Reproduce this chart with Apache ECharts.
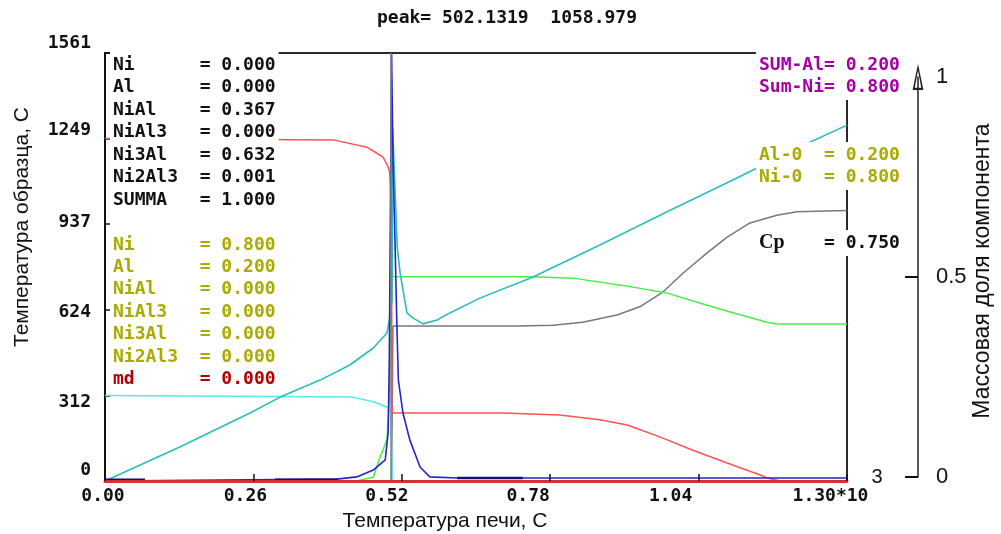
<!DOCTYPE html>
<html>
<head>
<meta charset="utf-8">
<title>peak</title>
<script src="https://cdn.jsdelivr.net/npm/echarts@6/dist/echarts.min.js"></script>
<style>
html, body {margin: 0; padding: 0; background: #fff;}
#container {width: 1001px; height: 534px;}
</style>
</head>
<body>
<div id="container"></div>
<script>
// ось X - температура печи, x10^3 C
var xTicks = ['0.00', '0.26', '0.52', '0.78', '1.04', '1.30*10'];
var yTicks = ['0', '312', '624', '937', '1249', '1561'];
var fracTicks = ['0', '0.5', '1'];

var peakX = 0.5021319;
var peakTitle = 'peak= 502.1319  1058.979';

// температура образца, C
var sampleX = [0, 0.131, 0.254, 0.307, 0.377, 0.429, 0.470, 0.494, 0.499, 0.503, 0.504, 0.508, 0.512, 0.517, 0.529, 0.540, 0.557, 0.582, 0.604, 0.657, 0.750, 0.867, 0.984, 1.100, 1.146, 1.232, 1.300];
var sampleY = [0, 124, 248, 306, 368, 423, 485, 540, 598, 660, 1287, 1072, 853, 759, 613, 594, 573, 587, 613, 667, 744, 861, 981, 1098, 1145, 1233, 1298];

// тепловой поток (пик)
var heatX = [0, 0.406, 0.441, 0.470, 0.491, 0.496, 0.498, 0.5021, 0.5046, 0.508, 0.5116, 0.514, 0.522, 0.534, 0.552, 0.569, 0.617, 1.300];
var heatY = [0, 7, 15, 40, 77, 175, 416, 1561, 1171, 879, 551, 368, 248, 150, 51, 15, 11, 11];

// массовые доли
var niX = [0, 0.400, 0.459, 0.487, 0.496, 0.499, 0.5021, 0.5025, 0.504, 0.697, 0.797, 0.867, 0.915, 0.972, 1.030, 1.090, 1.148, 1.160, 1.183, 1.300];
var niY = [0.8, 0.797, 0.780, 0.757, 0.734, 0.720, 0.640, 0.18, 0.159, 0.159, 0.154, 0.143, 0.131, 0.103, 0.072, 0.042, 0.014, 0.007, 0, 0];

var alX = [0, 0.434, 0.470, 0.494, 0.501, 0.5035, 1.300];
var alY = [0.2, 0.196, 0.185, 0.173, 0.159, 0, 0];

var nialX = [0, 0.44, 0.47, 0.482, 0.494, 0.498, 0.5021, 0.504, 0.750, 0.820, 0.925, 0.985, 1.042, 1.100, 1.160, 1.177, 1.300];
var nialY = [0, 0, 0.009, 0.056, 0.096, 0.189, 0.63, 0.477, 0.477, 0.474, 0.453, 0.439, 0.416, 0.393, 0.371, 0.367, 0.367];

var ni3alX = [0, 0.5021, 0.5045, 0.722, 0.785, 0.837, 0.897, 0.937, 0.978, 1.013, 1.055, 1.090, 1.130, 1.177, 1.212, 1.300];
var ni3alY = [0, 0, 0.362, 0.362, 0.364, 0.371, 0.388, 0.407, 0.442, 0.486, 0.533, 0.570, 0.603, 0.621, 0.629, 0.632];

var ni2al3X = [0, 0.07, 0.10, 0.298, 0.408, 0.42, 0.617, 0.732];
var ni2al3Y = [5, 5, null, 5, 5, null, 11, 11];

// таблицы слева / справа
var finNames = ['Ni', 'Al', 'NiAl', 'NiAl3', 'Ni3Al', 'Ni2Al3', 'SUMMA'];
var finVals = ['0.000', '0.000', '0.367', '0.000', '0.632', '0.001', '1.000'];
var startNames = ['Ni', 'Al', 'NiAl', 'NiAl3', 'Ni3Al', 'Ni2Al3', 'md'];
var startVals = ['0.800', '0.200', '0.000', '0.000', '0.000', '0.000', '0.000'];
var sumLines = ['SUM-Al= 0.200', 'Sum-Ni= 0.800'];
var initLines = ['Al-0  = 0.200', 'Ni-0  = 0.800'];
var cpVal = '0.750';

var MONO = 'bold 18px "DejaVu Sans Mono"';

function pairs(xs, ys) {
    return xs.map(function (x, i) { return [x, ys[i]]; });
}

function pad(s, n) {
    while (s.length < n) s += ' ';
    return s;
}

function textRow(x, y, str, color, font) {
    return {
        type: 'text', z: 100, x: x, y: y, silent: true,
        style: {
            text: str, fill: color, font: font || MONO,
            align: 'left', verticalAlign: 'middle',
            backgroundColor: '#fff', padding: [4, 3, 4, 3]
        }
    };
}

function plainText(x, y, str, color, font, rot, align) {
    return {
        type: 'text', z: 100, x: x, y: y, rotation: rot || 0, silent: true,
        style: {
            text: str, fill: color, font: font,
            align: align || 'center', verticalAlign: 'middle'
        }
    };
}

function lineSeries(name, xs, ys, yIdx, color, width) {
    return {
        name: name, type: 'line', xAxisIndex: 0, yAxisIndex: yIdx,
        data: pairs(xs, ys), symbol: 'none', connectNulls: false,
        lineStyle: {color: color, width: width || 1.5},
        emphasis: {disabled: true}, animation: false
    };
}

function buildGraphic() {
    var g = [];
    var i;
    for (i = 0; i < finNames.length; i++) {
        g.push(textRow(110, 65 + i * 22.5, pad(finNames[i], 8) + '= ' + finVals[i], '#111'));
    }
    for (i = 0; i < startNames.length; i++) {
        var c = startNames[i] === 'md' ? '#b40000' : '#aaaa00';
        g.push(textRow(110, 245 + i * 22.4, pad(startNames[i], 8) + '= ' + startVals[i], c));
    }
    g.push(textRow(756, 65, sumLines[0], '#a400a4'));
    g.push(textRow(756, 87, sumLines[1], '#a400a4'));
    g.push(textRow(756, 155, initLines[0], '#aaaa00'));
    g.push(textRow(756, 177, initLines[1], '#aaaa00'));
    g.push(textRow(756, 243, 'Cp', '#111', 'bold 20px "Liberation Serif"'));
    g.push(textRow(821, 243, '= ' + cpVal, '#111'));

    g.push(plainText(507, 18, peakTitle, '#111', MONO));
    g.push(plainText(877, 477, '3', '#111', '20px "Liberation Sans"'));
    g.push(plainText(445, 521, 'Температура печи, С', '#111', '21px "Liberation Sans"'));
    g.push(plainText(22, 227, 'Температура образца, С', '#111', '21px "Liberation Sans"', Math.PI / 2));
    g.push(plainText(983, 271, 'Массовая доля компонента', '#111', '23px "Liberation Sans"', Math.PI / 2));
    return g;
}

function getOption() {
    var xShift = [2, 8, 15, 22, 28, 16.5];
    var yShift = [11, -7, -3, 2, 8, 10];
    var xRich = {}, yRich = {};
    xShift.forEach(function (s, i) {
        xRich['s' + i] = {fontFamily: 'DejaVu Sans Mono', fontWeight: 'bold', fontSize: 18, color: '#111', padding: [0, 2 * s, 0, 0]};
    });
    yShift.forEach(function (s, i) {
        yRich['s' + i] = {fontFamily: 'DejaVu Sans Mono', fontWeight: 'bold', fontSize: 18, color: '#111',
            padding: s > 0 ? [0, 0, 2 * s, 0] : [-2 * s, 0, 0, 0]};
    });

    var heat = lineSeries('heat', heatX, heatY, 0, '#2424cc', 1.6);
    var ni3al = lineSeries('Ni3Al', ni3alX, ni3alY, 1, '#787878', 1.5);
    ni3al.markLine = {
        silent: true, symbol: ['none', 'none'], label: {show: false},
        lineStyle: {color: '#808080', width: 1.5, type: 'solid'},
        emphasis: {disabled: true}, animation: false,
        data: [{xAxis: peakX}]
    };

    return {
        animation: false,
        graphic: buildGraphic(),
        grid: [
            {left: 105, right: 154, top: 53, bottom: 53, show: true, borderColor: '#2a2a2a', borderWidth: 2, outerBoundsMode: 'none'},
            {left: 918, width: 10, top: 77, bottom: 57, outerBoundsMode: 'none'}
        ],
        xAxis: [
            {
                gridIndex: 0, type: 'value', min: 0, max: 1.3, interval: 0.26, z: 10,
                axisLine: {show: true, onZero: false, lineStyle: {color: '#d83030', width: 3}},
                axisTick: {show: true, inside: true, length: 7, lineStyle: {color: '#111', width: 1.5}},
                axisLabel: {
                    margin: 6,
                    formatter: function (v) {
                        var i = Math.round(v / 0.26);
                        return '{s' + i + '|' + xTicks[i] + '}';
                    },
                    rich: xRich
                },
                splitLine: {show: false}
            },
            {gridIndex: 1, type: 'value', show: false}
        ],
        yAxis: [
            {
                gridIndex: 0, type: 'value', min: 0, max: 1561, interval: 312.2,
                axisLine: {show: true, onZero: false, lineStyle: {color: '#111', width: 2}},
                axisTick: {show: true, inside: true, length: 5, lineStyle: {color: '#111', width: 1.5}},
                axisLabel: {
                    margin: 14,
                    formatter: function (v) {
                        var i = Math.round(v / 312.2);
                        return '{s' + i + '|' + yTicks[i] + '}';
                    },
                    rich: yRich
                },
                splitLine: {show: false}
            },
            {gridIndex: 0, type: 'value', min: 0, max: 1, show: false},
            {
                gridIndex: 1, type: 'value', position: 'right', min: 0, max: 1, interval: 0.5,
                axisLine: {
                    show: true, lineStyle: {color: '#222', width: 1.5},
                    symbol: ['none', 'path://M5,0L10,24L0,24Z M5,6L2,22L8,22Z'],
                    symbolSize: [12, 26]
                },
                axisTick: {show: true, inside: true, length: 13, customValues: [0, 0.5], lineStyle: {color: '#111', width: 2}},
                axisLabel: {
                    margin: 8, padding: [0, 0, 16, 0],
                    fontFamily: 'Liberation Sans', fontSize: 22, color: '#111',
                    formatter: function (v) { return fracTicks[Math.round(v * 2)]; }
                },
                splitLine: {show: false}
            }
        ],
        series: [
            ni3al,
            lineSeries('Al', alX, alY, 1, '#58e6f2', 1.5),
            lineSeries('Ni', niX, niY, 1, '#ff5252', 1.5),
            lineSeries('NiAl', nialX, nialY, 1, '#48ee48', 1.5),
            lineSeries('sample', sampleX, sampleY, 0, '#2cbcbc', 1.6),
            heat,
            lineSeries('Ni2Al3', ni2al3X, ni2al3Y, 0, '#10107a', 2.5)
        ]
    };
}

var myChart = echarts.init(document.getElementById('container'));
myChart.setOption(getOption());
</script>
</body>
</html>
